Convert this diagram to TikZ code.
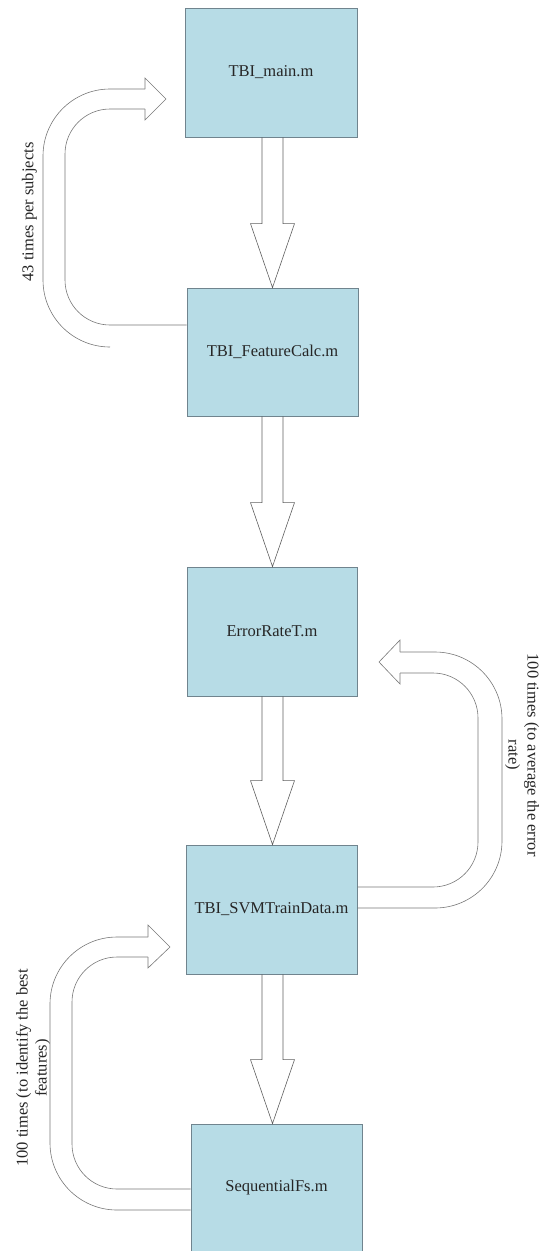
\documentclass[tikz,border=0pt]{standalone}
\usepackage{fontspec}
\setmainfont{Liberation Serif}
\usetikzlibrary{calc}
\definecolor{boxfill}{RGB}{183,220,230}
\definecolor{boxline}{RGB}{112,132,142}
\definecolor{arrline}{RGB}{95,95,95}
\definecolor{loopline}{RGB}{120,120,120}
\tikzset{
  box/.style={draw=boxline, fill=boxfill, line width=0.8pt, inner sep=0pt,
    font=\fontsize{16.5}{19}\selectfont, text=black!85},
  blk/.style={draw=arrline, line width=0.6pt, line join=miter},
  loopln/.style={draw=loopline, line width=0.6pt},
  lbl/.style={font=\fontsize{16.5}{19}\selectfont, inner sep=0pt, text=black!85}
}
\newcommand\blockarrow[2]{%
  \draw[blk] let \p1=(#1.south), \p2=(#2.north) in
    (262pt,\y1) -- (262pt,\y2+64pt) -- (250.5pt,\y2+64pt) -- (272.5pt,\y2)
    -- (294.5pt,\y2+64pt) -- (283pt,\y2+64pt) -- (283pt,\y1);}
\begin{document}
\begin{tikzpicture}[x=1pt,y=-1pt]
\useasboundingbox (0,0) rectangle (540,1251);
% boxes
\node[box, minimum width=172pt, minimum height=129pt] (b1) at (271,72.5) {TBI\_main.m};
\node[box, minimum width=171pt, minimum height=128pt] (b2) at (272.5,352) {TBI\_FeatureCalc.m};
\node[box, minimum width=170pt, minimum height=129pt] (b3) at (272,631.5) {ErrorRateT.m};
\node[box, minimum width=171pt, minimum height=129pt] (b4) at (271.5,909.5) {TBI\_SVMTrainData.m};
\node[box, minimum width=171pt, minimum height=128pt] (b5) at (276.5,1188) {SequentialFs.m};
% block arrows
\blockarrow{b1}{b2}
\blockarrow{b2}{b3}
\blockarrow{b3}{b4}
\blockarrow{b4}{b5}
% loop 1: b2 -> b1
\coordinate (t1) at (166,99);
\draw[loopln, rounded corners=45pt] ($(b2.west)+(0,-27)$) -- (65,325) -- (65,109) -- (145,109);
\draw[loopln, rounded corners=67pt] (110,347) -- (43,347) -- (43,89) -- (145,89);
\draw[loopln] (145,89) -- (145,78) -- (t1) -- (145,120) -- (145,109);
% loop 2: b4 -> b3
\coordinate (t2) at (379,662);
\draw[loopln, rounded corners=45pt] ($(b4.east)+(0,-22.5)$) -- (478,887) -- (478,673) -- (400,673);
\draw[loopln, rounded corners=67pt] ($(b4.east)+(0,-1.5)$) -- (502,908) -- (502,652) -- (400,652);
\draw[loopln] (400,652) -- (400,640) -- (t2) -- (400,684) -- (400,673);
% loop 3: b5 -> b4
\coordinate (t3) at (170,947);
\draw[loopln, rounded corners=45pt] ($(b5.west)+(0,1)$) -- (72,1189) -- (72,957) -- (148,957);
\draw[loopln, rounded corners=67pt] ($(b5.west)+(0,22)$) -- (50,1210) -- (50,937) -- (148,937);
\draw[loopln] (148,937) -- (148,925) -- (t3) -- (148,968) -- (148,957);
% labels
\node[lbl, rotate=90] (l1) at (29.5,212) {43 times per subjects};
\node[lbl, rotate=-90, align=center] (l2) at (522,755) {100 times (to average the error\\rate)};
\node[lbl, rotate=90, align=center] (l3) at (33,1068) {100 times (to identify the best\\features)};
\end{tikzpicture}
\end{document}
